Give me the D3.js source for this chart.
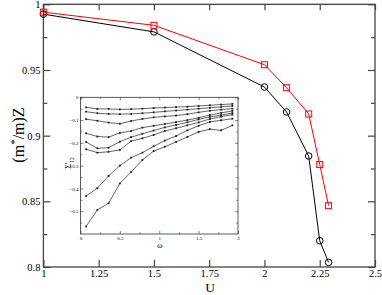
<!DOCTYPE html>
<html><head><meta charset="utf-8">
<script src="https://cdn.jsdelivr.net/npm/d3@7"></script>
<style>body{margin:0;background:#fff}svg{display:block;font-family:"Liberation Serif","Times New Roman",serif}</style>
</head><body>
<script>
// Main chart data
const uBlack = [1, 1.5, 2, 2.1, 2.2, 2.25, 2.29];
const zBlack = [0.9925, 0.979, 0.937, 0.918, 0.8845, 0.82, 0.8035];
const uRed = [1, 1.5, 2, 2.1, 2.2, 2.25, 2.29];
const zRed = [0.994, 0.984, 0.954, 0.9365, 0.9165, 0.878, 0.8467];
const xTicks = [1, 1.25, 1.5, 1.75, 2, 2.25, 2.5];
const yTicks = [0.8, 0.85, 0.9, 0.95, 1];
// Inset data
const omega = [0.071,0.214,0.357,0.5,0.643,0.786,0.929,1.071,1.214,1.357,1.5,1.643,1.786,1.929];
const s1 = [-0.044,-0.051,-0.051,-0.053,-0.052,-0.050,-0.047,-0.045,-0.043,-0.041,-0.038,-0.035,-0.032,-0.029];
const s2 = [-0.063,-0.070,-0.073,-0.074,-0.073,-0.070,-0.066,-0.062,-0.058,-0.054,-0.050,-0.046,-0.042,-0.038];
const s3 = [-0.096,-0.103,-0.111,-0.116,-0.104,-0.095,-0.088,-0.084,-0.080,-0.074,-0.066,-0.059,-0.054,-0.050];
const s4 = [-0.158,-0.172,-0.175,-0.156,-0.148,-0.133,-0.125,-0.117,-0.109,-0.100,-0.090,-0.078,-0.068,-0.060];
const s5 = [-0.196,-0.224,-0.221,-0.195,-0.175,-0.160,-0.146,-0.132,-0.121,-0.110,-0.097,-0.086,-0.078,-0.069];
const s6 = [-0.228,-0.243,-0.239,-0.231,-0.192,-0.180,-0.165,-0.148,-0.136,-0.123,-0.110,-0.095,-0.085,-0.076];
const s7 = [-0.433,-0.399,-0.345,-0.300,-0.265,-0.243,-0.215,-0.190,-0.170,-0.145,-0.125,-0.108,-0.101,-0.094];
const s8 = [-0.567,-0.494,-0.465,-0.378,-0.328,-0.275,-0.236,-0.217,-0.196,-0.174,-0.152,-0.140,-0.145,-0.123];
const insetSeries = [s1,s2,s3,s4,s5,s6,s7,s8];
const insetXTicks = [0, 0.5, 1, 1.5, 2];
const insetYTicks = [0, -0.1, -0.2, -0.3, -0.4, -0.5];

const W = 382, H = 295;
const svg = d3.select("body").append("svg").attr("width", W).attr("height", H);

const x = d3.scaleLinear().domain([1, 2.5]).range([43.4, 375]);
const y = d3.scaleLinear().domain([0.8, 1]).range([267, 4.3]);

const frameCol = "#444";
svg.append("rect").attr("x", x(1)).attr("y", y(1)).attr("width", x(2.5)-x(1)).attr("height", y(0.8)-y(1))
  .attr("fill", "none").attr("stroke", frameCol).attr("stroke-width", 1.3);

function fmt(d){ return d3.format("~g")(d); }
svg.append("g").attr("transform", `translate(0,${y(0.8)})`)
  .call(d3.axisBottom(x).tickValues(xTicks).tickSize(-7).tickPadding(2.5).tickFormat(fmt));
svg.append("g").attr("transform", `translate(0,${y(1)})`)
  .call(d3.axisTop(x).tickValues(xTicks).tickSize(-6).tickFormat(""));
svg.append("g").attr("transform", `translate(${x(1)},0)`)
  .call(d3.axisLeft(y).tickValues(yTicks).tickSize(-7).tickPadding(3).tickFormat(fmt));
svg.append("g").attr("transform", `translate(${x(2.5)},0)`)
  .call(d3.axisRight(y).tickValues(yTicks).tickSize(-7).tickFormat(""));
const minorY = d3.range(0.825, 1, 0.05);
svg.append("g").attr("transform", `translate(${x(1)},0)`)
  .call(d3.axisLeft(y).tickValues(minorY).tickSize(-4).tickFormat(""));
svg.append("g").attr("transform", `translate(${x(2.5)},0)`)
  .call(d3.axisRight(y).tickValues(minorY).tickSize(-4).tickFormat(""));
svg.selectAll(".domain").remove();
svg.selectAll(".tick line").attr("stroke", frameCol).attr("stroke-width", 1.2);
svg.selectAll(".tick text").attr("font-family", "Liberation Serif").attr("font-size", 10.5).attr("fill", "#000");

// axis titles
svg.append("text").attr("x", 210).attr("y", 292).attr("text-anchor", "middle")
  .attr("font-size", 13.5).text("U");
const yl = svg.append("text").attr("transform", `translate(24,135) rotate(-90)`).attr("text-anchor", "middle")
  .attr("font-size", 16);
yl.append("tspan").text("(m");
yl.append("tspan").attr("dy", -6).attr("font-size", 11).text("*");
yl.append("tspan").attr("dy", 6).text("/m)Z");

// series
const line = d3.line();
const black = uBlack.map((u,i)=>[x(u), y(zBlack[i])]);
const red = uRed.map((u,i)=>[x(u), y(zRed[i])]);
svg.append("path").attr("d", line(black)).attr("fill","none").attr("stroke","#000").attr("stroke-width",1);
svg.append("path").attr("d", line(red)).attr("fill","none").attr("stroke","#f00").attr("stroke-width",1);
svg.selectAll(".cb").data(black).join("circle").attr("cx",d=>d[0]).attr("cy",d=>d[1]).attr("r",3.3)
  .attr("fill","none").attr("stroke","#000").attr("stroke-width",1);
svg.selectAll(".sr").data(red).join("rect").attr("x",d=>d[0]-3).attr("y",d=>d[1]-3).attr("width",6).attr("height",6)
  .attr("fill","none").attr("stroke","#f00").attr("stroke-width",1);

// inset
const ix = d3.scaleLinear().domain([0, 2]).range([80.5, 238]);
const iy = d3.scaleLinear().domain([-0.6, 0]).range([234, 97.3]);
const ins = svg.append("g");
ins.append("rect").attr("x", ix(0)).attr("y", iy(0)).attr("width", ix(2)-ix(0)).attr("height", iy(-0.6)-iy(0))
  .attr("fill","#fff").attr("stroke","#333").attr("stroke-width",0.8);
const ixMinor = d3.range(0.25, 2, 0.5);
const iyMinor = d3.range(-0.55, 0, 0.1);
function addAx(gen, tr, vals, size, fmtF){
  const g = ins.append("g").attr("transform", tr).call(gen.tickValues(vals).tickSize(size).tickPadding(2).tickFormat(fmtF||""));
  g.select(".domain").remove();
  g.selectAll(".tick line").attr("stroke","#333").attr("stroke-width",0.6);
  g.selectAll(".tick text").attr("font-size",5).attr("font-family","Liberation Serif").attr("fill","#000");
  return g;
}
addAx(d3.axisBottom(ix), `translate(0,${iy(-0.6)})`, insetXTicks, -3, d=>d3.format("~g")(d));
addAx(d3.axisBottom(ix), `translate(0,${iy(-0.6)})`, ixMinor, -1.8);
addAx(d3.axisTop(ix), `translate(0,${iy(0)})`, insetXTicks, -3);
addAx(d3.axisTop(ix), `translate(0,${iy(0)})`, ixMinor, -1.8);
addAx(d3.axisLeft(iy), `translate(${ix(0)},0)`, insetYTicks, -3, d=>d3.format("~g")(d));
addAx(d3.axisLeft(iy), `translate(${ix(0)},0)`, iyMinor, -1.8);
addAx(d3.axisRight(iy), `translate(${ix(2)},0)`, insetYTicks, -3);
addAx(d3.axisRight(iy), `translate(${ix(2)},0)`, iyMinor, -1.8);

insetSeries.forEach(s => {
  const pts = omega.map((w,i)=>[ix(w), iy(s[i])]);
  ins.append("path").attr("d", line(pts)).attr("fill","none").attr("stroke","#222").attr("stroke-width",0.7);
  ins.selectAll(null).data(pts).join("rect").attr("x",d=>d[0]-0.9).attr("y",d=>d[1]-0.9)
    .attr("width",1.8).attr("height",1.8).attr("fill","#222");
});
ins.append("text").attr("x", 160).attr("y", 248).attr("text-anchor","middle").attr("font-size",8).text("ω");
const il = ins.append("text").attr("transform", `translate(71,163) rotate(-90)`).attr("text-anchor","middle").attr("font-size",8);
il.append("tspan").text("Σ'");
il.append("tspan").attr("dy", 2.5).attr("font-size", 5.5).text("12");
</script>
</body></html>
